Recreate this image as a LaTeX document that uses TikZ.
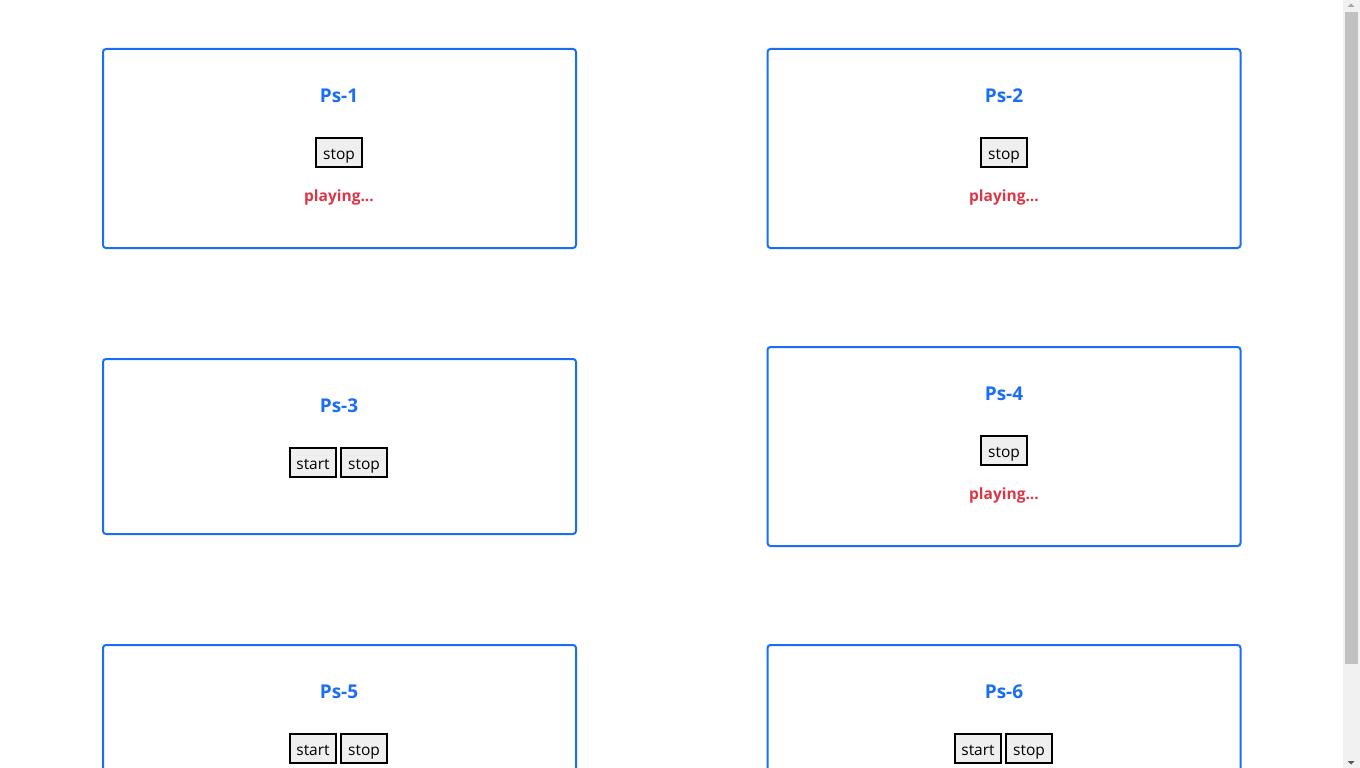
\documentclass[tikz,border=0pt]{standalone}
\usepackage{fontspec}
\setmainfont{Open Sans}
\usetikzlibrary{positioning}
\definecolor{psblue}{HTML}{1A6EF5}
\definecolor{psred}{HTML}{DC3545}
\definecolor{btngray}{HTML}{EFEFEF}
\definecolor{trackgray}{HTML}{F1F1F1}
\definecolor{thumbgray}{HTML}{C1C1C1}

\begin{document}
\begin{tikzpicture}[x=1pt,y=-1pt,
  card/.style={draw=psblue,line width=2pt,rounded corners=3pt,inner sep=0pt,minimum width=473pt},
  title/.style={anchor=base,text=psblue,font=\bfseries\fontsize{19}{22}\selectfont,inner sep=0pt},
  btn/.style={draw=black,line width=2pt,fill=btngray,minimum width=46pt,minimum height=29pt,
    inner sep=0pt,text height=13pt,text depth=0pt,font=\fontsize{15.5}{18}\selectfont},
  status/.style={anchor=base,text=psred,font=\bfseries\fontsize{15.5}{19}\selectfont,inner sep=0pt}]
\useasboundingbox (0,0) rectangle (1360,768);
\clip (0,0) rectangle (1360,768);
% cards
\node [card,minimum height=199pt] (card1) at (339.5,148.5) {};
\node [title] (title1) at (339,102.5) {Ps-1};
\node [btn] (stop1) at (339,152.5) {stop};
\node [status] (status1) at (339,201.5) {playing...};
\node [card,minimum height=199pt] (card2) at (1004,148.5) {};
\node [title] (title2) at (1004,102.5) {Ps-2};
\node [btn] (stop2) at (1004,152.5) {stop};
\node [status] (status2) at (1004,201.5) {playing...};
\node [card,minimum height=175pt] (card3) at (339.5,446.5) {};
\node [title] (title3) at (339,412.5) {Ps-3};
\node [btn] (start3) at (313,462.5) {start};
\node [btn] (stop3) at (364,462.5) {stop};
\node [card,minimum height=199pt] (card4) at (1004,446.5) {};
\node [title] (title4) at (1004,400.5) {Ps-4};
\node [btn] (stop4) at (1004,450.5) {stop};
\node [status] (status4) at (1004,499.5) {playing...};
\node [card,minimum height=199pt] (card5) at (339.5,744.5) {};
\node [title] (title5) at (339,698.5) {Ps-5};
\node [btn] (start5) at (313,748.5) {start};
\node [btn] (stop5) at (364,748.5) {stop};
\node [card,minimum height=199pt] (card6) at (1004,744.5) {};
\node [title] (title6) at (1004,698.5) {Ps-6};
\node [btn] (start6) at (978,748.5) {start};
\node [btn] (stop6) at (1029,748.5) {stop};
% scrollbar
\fill [trackgray] (1343,0) rectangle (1360,768);
\fill [thumbgray] (1345,12) rectangle (1358,664);
\fill [black!35] (1347.5,7) -- (1354.5,7) -- (1351,3.5) -- cycle;
\fill [black!65] (1347.5,761) -- (1354.5,761) -- (1351,764.5) -- cycle;
\end{tikzpicture}
\end{document}
